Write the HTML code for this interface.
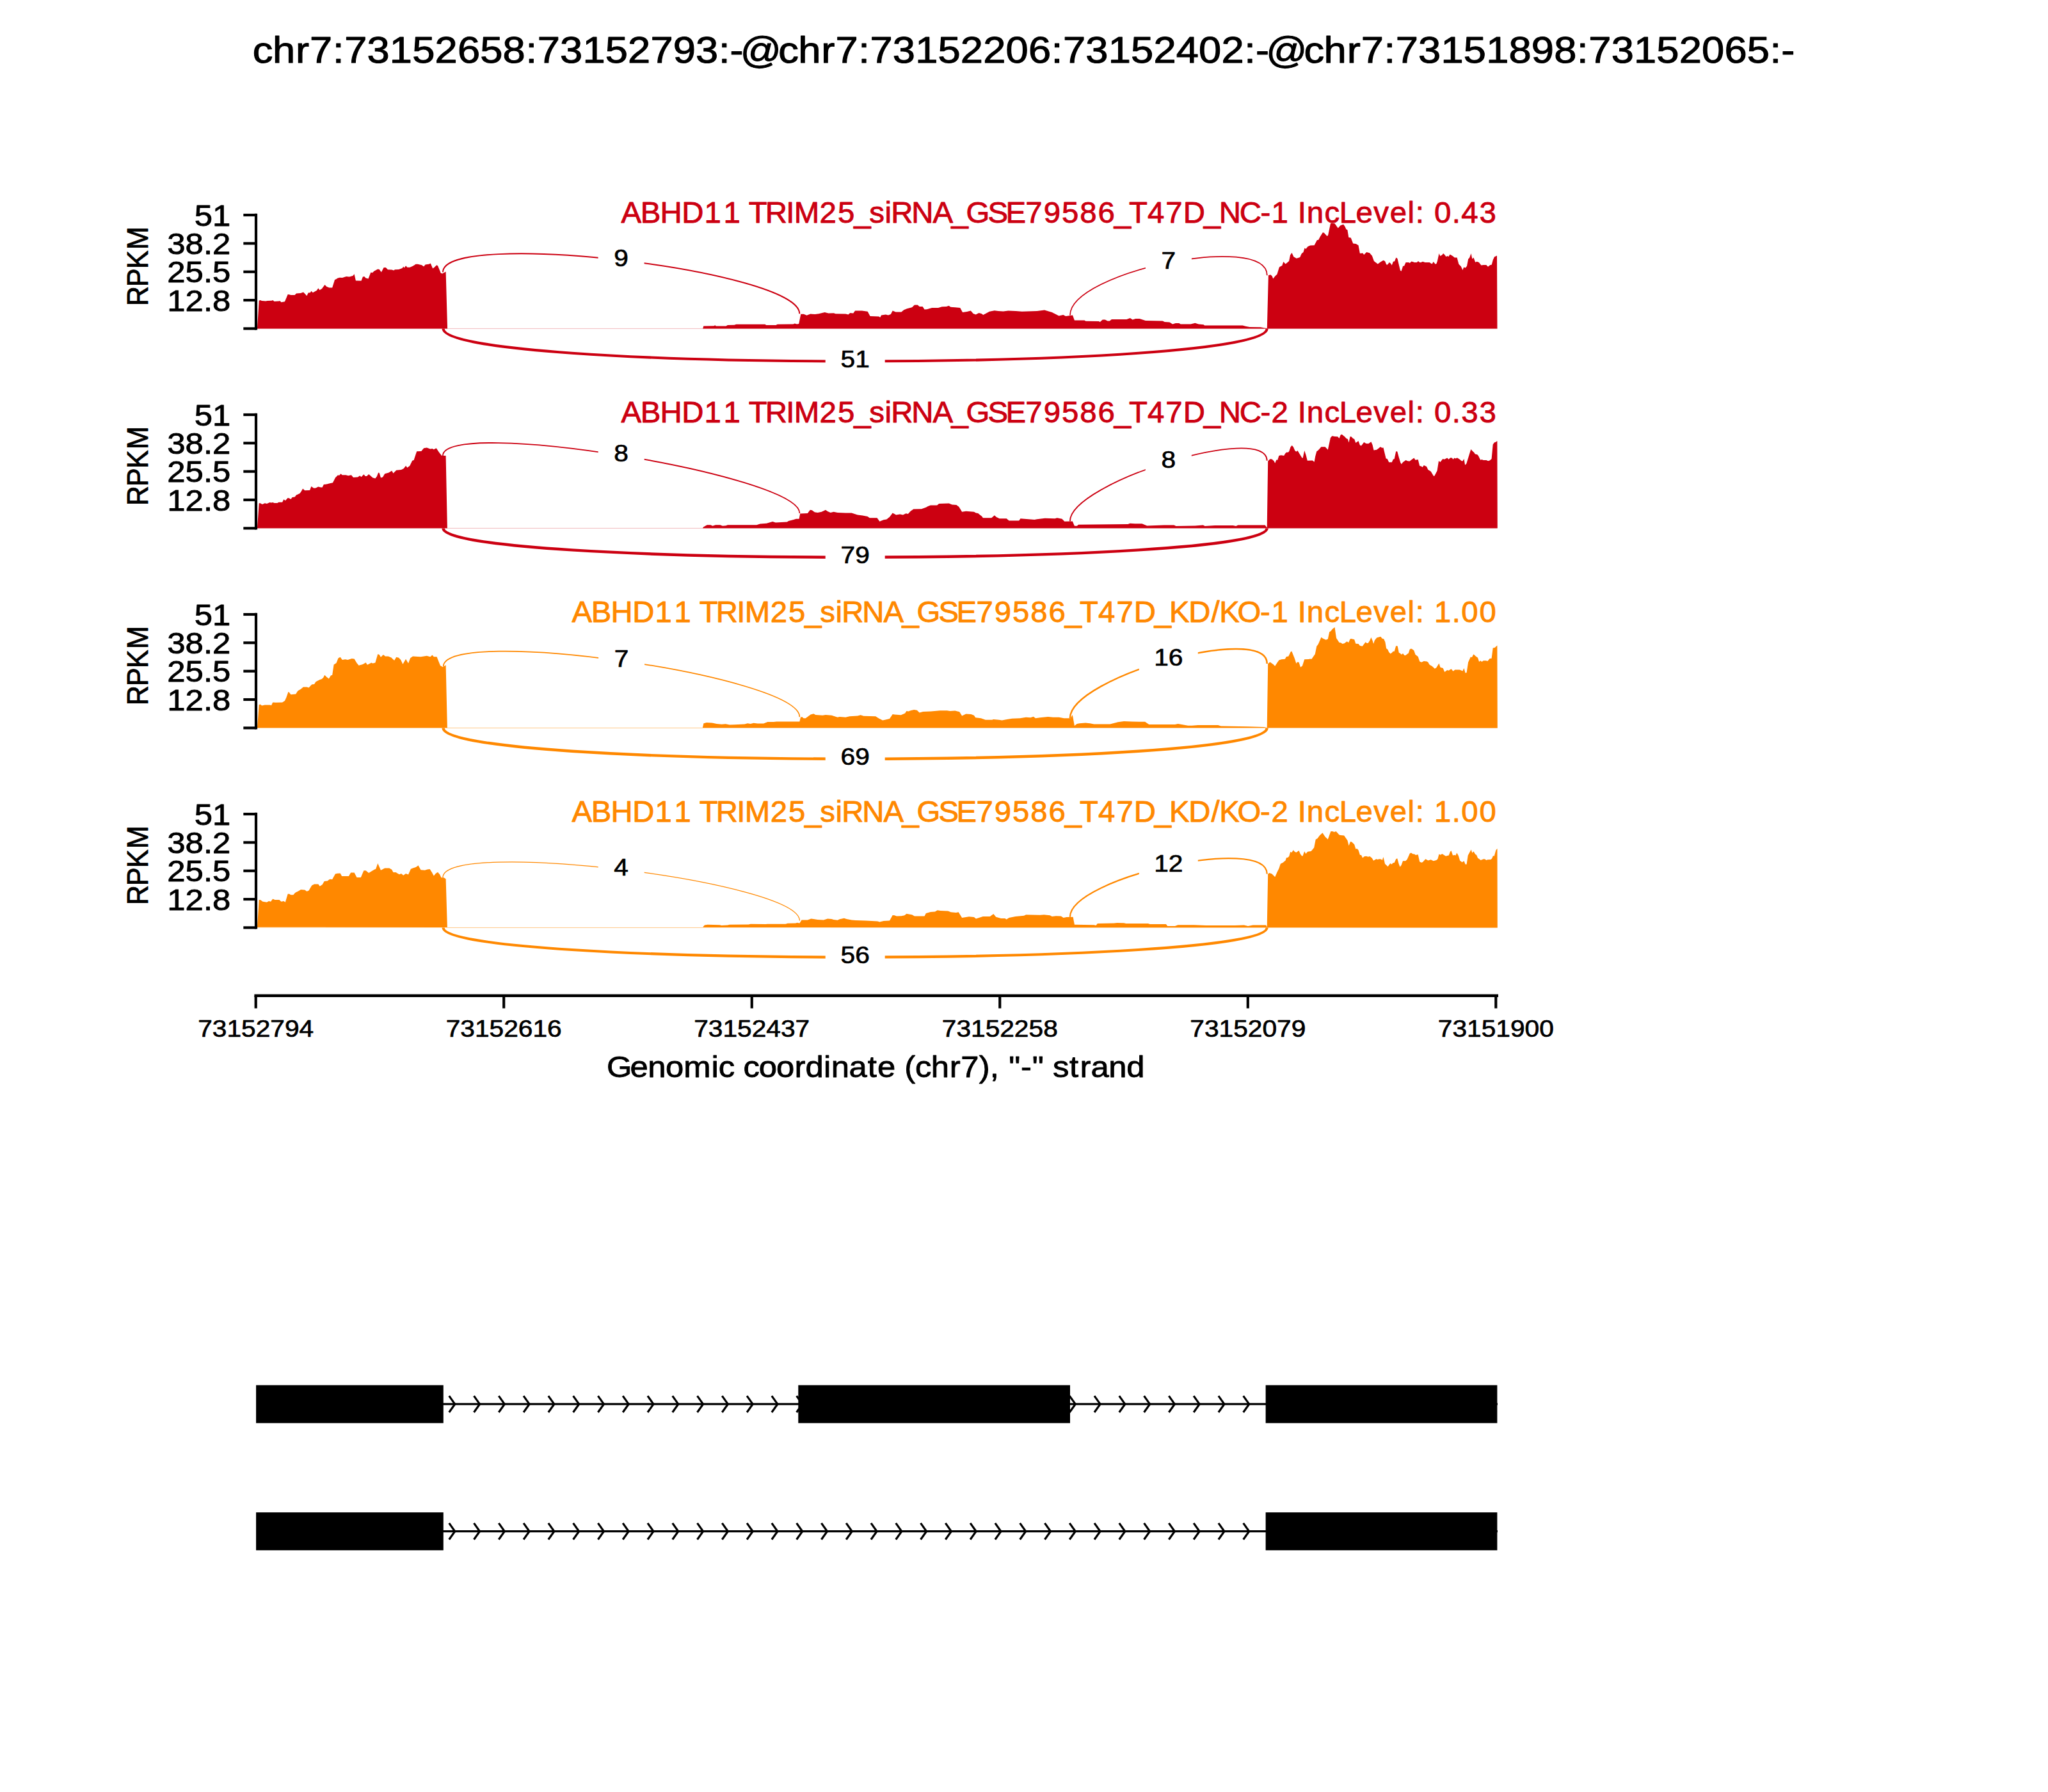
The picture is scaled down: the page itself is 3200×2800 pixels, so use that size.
<!DOCTYPE html>
<html><head><meta charset="utf-8"><style>
html,body{margin:0;padding:0;background:#fff;}
svg{display:block;}
text{font-family:"Liberation Sans", sans-serif;}
</style></head><body>
<svg width="3200" height="2800" viewBox="0 0 3200 2800">
<rect width="3200" height="2800" fill="#fff"/>
<g transform="scale(1.10213,1)"><text x="358.28 386.50 419.25 439.24 471.76 488.30 520.37 552.45 584.52 616.59 648.67 680.74 712.81 745.33 761.87 793.95 826.02 858.09 890.17 922.24 954.31 986.39 1018.91 1034.91 1049.63 1103.48 1131.70 1164.45 1184.44 1216.96 1233.50 1265.57 1297.65 1329.72 1361.79 1393.87 1425.94 1458.01 1490.53 1507.07 1539.15 1571.22 1603.29 1635.37 1667.44 1699.51 1731.59 1764.11 1780.11 1794.83 1848.68 1876.90 1909.65 1929.64 1962.16 1978.70 2010.77 2042.85 2074.92 2106.99 2139.07 2171.14 2203.21 2235.73 2252.27 2284.34 2316.42 2348.49 2380.56 2412.64 2444.71 2476.79 2509.30 2525.31" y="98.05" font-size="57.41" fill="#000" stroke="#000" stroke-width="1.09" stroke-linejoin="round">chr7:73152658:73152793:-@chr7:73152206:73152402:-@chr7:73151898:73152065:-</text></g>
<path d="M402.0,513.4 L404.7,469.7 L406.7,468.9 L409.0,470.0 L415.3,470.6 L417.7,470.0 L424.7,469.7 L426.2,468.9 L428.6,470.9 L436.4,470.6 L437.2,470.0 L439.5,472.2 L445.0,471.2 L449.7,460.0 L452.0,460.3 L454.4,461.1 L460.6,461.1 L463.0,458.4 L470.0,458.1 L473.9,456.4 L476.2,458.8 L479.4,462.2 L481.7,457.5 L484.8,457.2 L486.4,454.8 L488.8,457.2 L491.9,455.6 L495.0,453.8 L497.3,450.2 L499.4,453.3 L502.8,451.2 L507.5,445.0 L510.6,448.1 L514.5,449.4 L519.2,449.4 L523.1,436.9 L524.7,436.6 L527.8,434.5 L530.9,433.8 L534.8,434.1 L541.1,431.9 L545.8,432.5 L551.2,430.9 L553.6,428.3 L555.9,438.4 L564.5,438.8 L566.9,432.5 L569.2,431.9 L571.6,434.5 L575.5,435.6 L579.4,425.6 L581.7,426.2 L584.8,423.6 L590.3,420.5 L592.7,420.9 L595.8,425.2 L599.7,418.1 L602.8,418.1 L605.9,421.2 L612.2,421.6 L615.3,422.5 L616.9,421.2 L623.1,420.9 L628.6,418.9 L630.2,416.6 L631.7,418.4 L634.1,415.3 L636.4,417.8 L640.3,417.8 L645.0,415.8 L649.7,412.7 L652.8,412.7 L659.1,414.2 L662.2,416.6 L664.5,413.4 L667.7,413.1 L670.0,412.7 L672.8,411.6 L676.2,419.4 L678.6,417.8 L682.2,414.2 L684.1,415.3 L688.8,426.7 L691.1,427.5 L696.6,424.4 L699.1,513.4 L1098.2,513.4 L1099.3,509.5 L1115.2,509.3 L1117.5,508.3 L1118.7,509.5 L1134.5,509.5 L1136.8,508.1 L1147.4,507.7 L1150.3,506.8 L1195.4,506.8 L1197.2,508.0 L1212.4,508.0 L1214.8,506.8 L1239.4,506.6 L1241.7,505.4 L1245.2,506.6 L1248.2,506.0 L1251.3,490.7 L1255.8,490.7 L1260.5,492.7 L1266.3,490.4 L1273.4,491.1 L1279.2,490.2 L1288.6,488.0 L1294.5,489.6 L1302.7,489.2 L1305.6,490.2 L1321.5,490.6 L1325.4,491.4 L1328.3,489.1 L1333.2,489.5 L1336.1,485.5 L1346.9,485.5 L1355.7,486.7 L1359.6,493.9 L1373.2,494.5 L1375.2,495.9 L1377.1,492.6 L1384.0,491.4 L1387.9,492.6 L1391.8,491.0 L1394.7,485.5 L1399.6,487.5 L1408.4,487.5 L1412.3,484.2 L1417.2,482.2 L1425.0,480.3 L1428.9,476.4 L1433.8,476.4 L1436.7,478.9 L1441.6,478.9 L1444.5,483.6 L1448.4,483.2 L1456.2,480.9 L1466.0,480.9 L1471.9,479.3 L1478.7,478.9 L1482.6,477.7 L1485.5,479.7 L1492.4,480.3 L1500.2,480.9 L1504.1,488.1 L1510.9,487.1 L1516.8,485.5 L1520.7,490.0 L1524.6,491.4 L1529.5,489.1 L1533.4,490.0 L1536.3,492.0 L1546.1,486.7 L1553.9,485.2 L1559.8,486.1 L1567.6,486.5 L1575.4,485.5 L1587.1,486.1 L1596.9,486.7 L1620.3,486.1 L1632.0,484.6 L1643.8,488.1 L1654.5,493.4 L1661.3,492.0 L1665.2,493.9 L1676.0,492.6 L1678.9,500.4 L1694.5,500.4 L1696.5,501.8 L1716.6,501.9 L1718.9,503.1 L1722.8,499.5 L1726.7,499.5 L1730.6,501.6 L1733.8,501.6 L1736.9,499.1 L1760.3,499.1 L1765.8,496.9 L1769.7,499.5 L1774.4,498.0 L1780.6,498.1 L1790.0,501.1 L1816.6,501.6 L1819.7,503.1 L1827.5,503.4 L1832.2,506.6 L1836.9,505.0 L1842.3,505.0 L1844.7,506.6 L1860.3,506.6 L1867.3,504.7 L1872.8,506.6 L1880.6,507.3 L1882.2,508.4 L1941.6,508.4 L1946.2,509.7 L1952.5,510.9 L1969.7,511.2 L1975.9,512.5 L1979.8,513.0 L1981.9,430.3 L1982.2,430.0 L1985.3,429.2 L1987.7,431.6 L1989.2,435.5 L1992.3,431.6 L1995.5,428.4 L1998.6,418.3 L1999.4,416.9 L2003.3,415.0 L2005.3,409.1 L2008.7,412.5 L2014.1,408.1 L2016.0,398.4 L2018.5,394.9 L2021.4,401.3 L2025.8,403.7 L2031.2,402.1 L2033.6,396.4 L2036.5,394.0 L2038.5,387.6 L2040.4,389.1 L2043.4,385.2 L2047.3,383.5 L2053.6,383.2 L2058.0,374.9 L2060.0,375.1 L2062.9,369.6 L2066.8,363.2 L2068.8,363.7 L2073.6,369.1 L2075.1,367.6 L2079.0,349.0 L2080.5,348.6 L2085.4,349.0 L2090.7,356.4 L2094.1,352.5 L2099.0,350.5 L2101.5,353.9 L2103.4,358.3 L2105.4,359.3 L2107.3,371.0 L2110.7,371.5 L2114.2,380.6 L2118.6,381.0 L2122.5,383.2 L2124.9,395.9 L2129.3,395.4 L2131.2,397.9 L2135.2,394.0 L2140.0,395.2 L2143.9,399.8 L2146.9,408.1 L2152.7,412.5 L2157.6,409.1 L2161.5,406.7 L2164.0,408.1 L2166.3,413.6 L2168.1,413.6 L2170.7,410.1 L2172.9,411.4 L2174.7,414.5 L2176.9,408.8 L2179.1,408.2 L2181.3,402.4 L2183.5,403.9 L2187.9,422.4 L2189.6,423.7 L2192.2,415.4 L2194.0,415.8 L2196.6,410.1 L2201.0,410.1 L2202.8,411.0 L2205.4,408.5 L2208.1,409.2 L2209.8,410.1 L2213.8,410.1 L2216.0,407.9 L2218.2,410.1 L2220.4,409.9 L2223.0,408.8 L2226.5,409.9 L2233.6,410.1 L2237.5,412.6 L2239.7,409.0 L2242.8,412.7 L2244.5,411.9 L2245.9,407.9 L2248.5,396.0 L2250.2,400.0 L2252.9,398.7 L2255.1,396.0 L2256.8,397.4 L2259.5,400.9 L2261.7,400.0 L2263.4,400.9 L2265.6,397.6 L2270.5,400.4 L2272.7,402.6 L2276.6,402.6 L2279.3,412.7 L2282.8,416.2 L2285.4,422.0 L2287.2,417.6 L2289.8,418.4 L2292.0,415.8 L2294.2,404.4 L2296.0,403.1 L2298.6,396.0 L2300.3,404.4 L2302.5,402.6 L2305.2,409.7 L2307.8,408.8 L2310.9,410.1 L2314.4,414.5 L2317.9,414.1 L2322.3,414.1 L2325.0,416.7 L2328.5,414.1 L2330.7,413.8 L2332.9,405.7 L2335.1,401.3 L2339.0,399.5 L2339.5,513.4 Z" fill="#CC0011" stroke="none"/>
<line x1="402" y1="513.4" x2="2339.5" y2="513.4" stroke="#CC0011" stroke-width="0.8" stroke-opacity="0.35"/>
<path d="M692,425.3 C692,357.20000000000005 1249.3,422.1 1249.3,490.2" fill="none" stroke="#CC0011" stroke-width="1.95"/>
<rect x="934.6" y="382.2" width="72.0" height="48" fill="#fff"/>
<g transform="scale(1.10708,1)"><text x="866.55" y="415.85" font-size="36.75" fill="#000" stroke="#000" stroke-width="0.70" stroke-linejoin="round">9</text></g>
<path d="M1672,492.6 C1672,424.5 1979.8,362.20000000000005 1979.8,430.3" fill="none" stroke="#CC0011" stroke-width="1.75"/>
<rect x="1789.9" y="385.9" width="72.0" height="48" fill="#fff"/>
<g transform="scale(1.10708,1)"><text x="1639.08" y="419.55" font-size="36.75" fill="#000" stroke="#000" stroke-width="0.70" stroke-linejoin="round">7</text></g>
<path d="M692.6,513.4 C692.6,581.5 1979.7,581.5 1979.7,513.4" fill="none" stroke="#CC0011" stroke-width="4.1"/>
<rect x="1289.7" y="540.0" width="93.0" height="48" fill="#fff"/>
<g transform="scale(1.10708,1)"><text x="1186.48 1206.92" y="573.65" font-size="36.75" fill="#000" stroke="#000" stroke-width="0.70" stroke-linejoin="round">51</text></g>
<line x1="400" y1="333.7" x2="400" y2="515.6" stroke="#000" stroke-width="4.17"/>
<line x1="380.3" y1="513.40" x2="400" y2="513.40" stroke="#000" stroke-width="4.17"/>
<line x1="380.3" y1="469.05" x2="400" y2="469.05" stroke="#000" stroke-width="4.17"/>
<line x1="380.3" y1="424.70" x2="400" y2="424.70" stroke="#000" stroke-width="4.17"/>
<line x1="380.3" y1="380.35" x2="400" y2="380.35" stroke="#000" stroke-width="4.17"/>
<line x1="380.3" y1="336.00" x2="400" y2="336.00" stroke="#000" stroke-width="4.17"/>
<g transform="scale(1.10708,1)"><text x="274.37 299.91" y="352.56" font-size="45.92" fill="#000" stroke="#000" stroke-width="0.87" stroke-linejoin="round">51</text></g>
<g transform="scale(1.10710,1)"><text x="236.07 261.61 287.15 299.91" y="396.91" font-size="45.92" fill="#000" stroke="#000" stroke-width="0.87" stroke-linejoin="round">38.2</text></g>
<g transform="scale(1.10710,1)"><text x="236.07 261.61 287.15 299.91" y="441.26" font-size="45.92" fill="#000" stroke="#000" stroke-width="0.87" stroke-linejoin="round">25.5</text></g>
<g transform="scale(1.10710,1)"><text x="236.07 261.61 287.15 299.91" y="485.61" font-size="45.92" fill="#000" stroke="#000" stroke-width="0.87" stroke-linejoin="round">12.8</text></g>
<g transform="translate(231.00,415.50) rotate(-90) scale(0.94336,1)"><text x="-66.55 -34.72 -5.07 26.89" y="-0.44" font-size="45.92" fill="#000" stroke="#000" stroke-width="0.87" stroke-linejoin="round">RPKM</text></g>
<g transform="scale(1.03192,1)"><text x="940.38 969.88 999.58 1032.35 1066.44 1095.54 1120.78 1133.54 1158.69 1190.20 1202.38 1241.02 1268.42 1292.88 1316.16 1339.74 1349.20 1380.27 1412.37 1440.42 1462.78 1495.68 1522.95 1552.80 1580.20 1607.60 1635.00 1662.40 1686.86 1709.53 1737.64 1765.04 1791.51 1822.66 1845.73 1876.87 1908.61 1924.96 1951.89 1965.09 1978.69 2005.47 2028.01 2052.88 2079.78 2104.48 2131.38 2143.34 2157.44 2171.59 2198.53 2212.68 2240.08" y="348.06" font-size="45.92" fill="#CC0011" stroke="#CC0011" stroke-width="0.87" stroke-linejoin="round">ABHD11 TRIM25_siRNA_GSE79586_T47D_NC-1 IncLevel: 0.43</text></g>
<path d="M402.0,825.3 L404.7,786.2 L406.7,786.2 L409.8,788.1 L413.8,786.2 L416.9,786.9 L421.6,785.0 L423.9,785.6 L426.2,785.0 L428.6,785.9 L433.3,785.9 L435.6,784.7 L441.1,784.7 L443.4,780.3 L445.8,782.3 L449.7,778.1 L452.0,778.4 L454.4,780.0 L456.7,776.9 L460.6,776.6 L463.0,773.4 L468.4,770.9 L470.8,767.8 L473.1,763.6 L476.2,766.2 L484.1,765.9 L486.4,760.0 L490.3,762.8 L493.4,762.5 L497.3,760.5 L501.2,761.6 L503.6,761.6 L505.9,756.9 L510.6,756.6 L515.3,755.3 L520.0,754.2 L523.9,746.4 L527.8,742.5 L530.2,742.8 L532.5,740.2 L534.8,742.2 L540.3,742.2 L544.2,743.3 L548.9,742.2 L552.0,745.9 L559.1,745.6 L562.2,743.3 L564.5,745.3 L568.4,741.2 L570.8,744.1 L573.1,744.1 L576.2,740.9 L582.5,746.4 L586.4,747.5 L588.8,744.4 L591.1,738.6 L592.7,739.1 L595.0,746.4 L598.1,745.6 L601.2,740.2 L607.5,738.6 L612.2,735.5 L614.5,739.4 L619.2,734.7 L627.0,733.9 L630.9,731.9 L634.1,727.7 L636.4,730.8 L640.3,727.7 L644.2,719.8 L646.6,719.1 L651.2,705.3 L658.3,705.0 L662.2,700.3 L666.9,699.5 L672.3,701.6 L675.5,701.1 L677.8,702.2 L681.7,700.3 L686.4,707.3 L690.3,712.0 L696.6,712.0 L698.9,825.3 L1097.8,825.3 L1099.4,823.3 L1104.8,820.2 L1110.3,820.2 L1113.4,821.7 L1118.1,820.2 L1125.2,820.2 L1129.1,821.7 L1134.5,821.2 L1136.9,820.2 L1182.2,820.2 L1187.7,818.6 L1197.8,817.8 L1207.2,815.0 L1211.9,816.6 L1229.8,815.5 L1232.2,813.9 L1240.0,811.9 L1243.9,810.8 L1248.6,810.8 L1250.2,802.5 L1261.9,801.9 L1265.8,796.7 L1268.9,797.2 L1272.8,800.3 L1277.5,800.9 L1283.8,799.8 L1290.0,796.7 L1293.1,799.1 L1297.8,800.9 L1302.5,799.8 L1308.8,800.9 L1321.2,801.4 L1330.6,801.4 L1340.0,804.5 L1347.8,805.6 L1355.6,806.9 L1358.8,809.2 L1370.5,809.2 L1374.4,814.7 L1380.6,812.3 L1385.3,811.6 L1390.0,807.7 L1394.7,801.4 L1400.2,804.5 L1406.2,803.4 L1410.9,804.5 L1415.6,802.2 L1418.8,803.0 L1422.7,798.8 L1427.3,795.6 L1439.8,795.2 L1446.9,792.8 L1450.0,790.9 L1453.9,789.4 L1464.1,789.4 L1467.2,786.9 L1482.8,786.6 L1487.5,788.4 L1494.5,788.9 L1498.4,792.0 L1503.1,799.8 L1509.4,798.8 L1521.9,799.8 L1525.0,801.4 L1528.1,801.9 L1534.4,806.9 L1535.9,809.2 L1549.2,809.2 L1553.9,805.3 L1557.0,808.1 L1561.7,810.3 L1572.7,810.3 L1576.6,813.4 L1592.2,813.4 L1594.5,810.3 L1600.8,810.8 L1616.4,811.9 L1620.3,811.2 L1632.8,809.7 L1648.4,810.3 L1651.6,809.2 L1659.4,810.8 L1663.3,814.7 L1675.8,814.4 L1678.9,821.7 L1682.8,821.7 L1685.2,819.7 L1762.5,819.1 L1765.6,817.8 L1773.4,818.3 L1784.4,818.3 L1792.2,821.4 L1818.8,820.6 L1834.4,820.6 L1837.5,821.9 L1867.2,821.4 L1879.7,820.6 L1882.8,821.9 L1898.4,820.9 L1926.6,820.9 L1931.2,821.9 L1934.4,820.6 L1976.6,820.6 L1979.7,824.5 L1981.2,720.6 L1984.4,717.2 L1987.5,717.5 L1990.6,720.6 L1992.2,723.8 L1994.5,718.3 L1996.1,719.1 L1998.4,712.0 L2001.6,711.2 L2006.2,712.0 L2008.6,708.1 L2010.9,706.6 L2012.5,707.1 L2014.2,705.2 L2016.6,698.2 L2018.7,696.1 L2020.8,698.2 L2023.3,704.0 L2025.4,705.7 L2027.4,704.0 L2030.8,709.4 L2034.5,715.6 L2035.7,715.6 L2038.2,704.0 L2040.7,711.5 L2042.8,719.8 L2050.7,719.4 L2053.6,721.8 L2055.2,713.1 L2057.3,705.2 L2059.8,703.6 L2064.4,698.2 L2070.6,698.2 L2074.8,702.8 L2078.9,684.1 L2081.4,681.2 L2085.5,682.0 L2090.1,682.2 L2092.6,684.9 L2094.7,679.5 L2096.7,678.7 L2101.3,682.4 L2103.8,685.3 L2105.9,686.1 L2107.5,691.5 L2109.6,682.0 L2111.7,682.4 L2114.2,685.3 L2116.2,686.1 L2118.3,692.0 L2122.5,689.0 L2125.0,695.7 L2127.0,696.5 L2131.2,691.1 L2134.5,693.0 L2138.2,693.2 L2142.4,690.3 L2144.5,694.9 L2146.5,703.6 L2151.1,702.8 L2156.9,698.2 L2159.4,699.8 L2161.5,699.4 L2165.6,716.4 L2167.7,717.1 L2170.2,722.3 L2174.8,722.3 L2176.8,717.7 L2178.7,716.9 L2181.2,705.3 L2183.3,705.5 L2185.8,714.8 L2188.3,723.1 L2189.9,725.2 L2192.0,722.3 L2196.6,719.1 L2199.1,720.2 L2202.4,720.8 L2205.3,718.6 L2209.4,715.5 L2211.5,718.8 L2215.7,718.0 L2218.2,728.1 L2220.7,728.5 L2222.7,729.9 L2224.8,727.1 L2229.0,729.1 L2231.4,733.9 L2235.6,736.4 L2240.2,743.9 L2241.4,743.5 L2245.6,735.6 L2248.0,720.2 L2250.5,722.1 L2254.3,717.1 L2256.8,717.7 L2261.3,715.5 L2263.4,717.7 L2266.3,715.2 L2268.8,715.6 L2270.5,717.7 L2272.5,715.5 L2274.6,716.5 L2276.7,715.2 L2280.8,717.7 L2283.7,720.2 L2285.4,720.6 L2287.5,716.9 L2289.1,726.4 L2291.2,724.8 L2298.3,702.0 L2301.2,705.3 L2302.8,706.4 L2304.9,709.4 L2308.2,710.3 L2309.9,711.9 L2313.2,718.8 L2315.3,718.0 L2317.8,719.0 L2322.3,719.1 L2325.2,720.2 L2327.7,719.4 L2330.6,716.9 L2332.7,694.5 L2334.8,691.4 L2336.9,690.8 L2339.4,689.1 L2339.8,825.3 Z" fill="#CC0011" stroke="none"/>
<line x1="402" y1="825.4" x2="2339.5" y2="825.4" stroke="#CC0011" stroke-width="0.8" stroke-opacity="0.35"/>
<path d="M691.9,712 C691.9,651.6 1249.4,741.5 1249.4,801.9" fill="none" stroke="#CC0011" stroke-width="1.85"/>
<rect x="934.7" y="687.2" width="72.0" height="48" fill="#fff"/>
<g transform="scale(1.10708,1)"><text x="866.55" y="720.85" font-size="36.75" fill="#000" stroke="#000" stroke-width="0.70" stroke-linejoin="round">8</text></g>
<path d="M1671.9,814.4 C1671.9,754.0 1979.7,659.4 1979.7,719.8" fill="none" stroke="#CC0011" stroke-width="1.85"/>
<rect x="1789.8" y="697.3" width="72.0" height="48" fill="#fff"/>
<g transform="scale(1.10708,1)"><text x="1638.99" y="730.95" font-size="36.75" fill="#000" stroke="#000" stroke-width="0.70" stroke-linejoin="round">8</text></g>
<path d="M692.6,825.4 C692.6,885.8 1979.7,885.8 1979.7,825.4" fill="none" stroke="#CC0011" stroke-width="4.5"/>
<rect x="1289.7" y="846.0" width="93.0" height="48" fill="#fff"/>
<g transform="scale(1.10708,1)"><text x="1186.48 1206.92" y="879.65" font-size="36.75" fill="#000" stroke="#000" stroke-width="0.70" stroke-linejoin="round">79</text></g>
<line x1="400" y1="645.7" x2="400" y2="827.6" stroke="#000" stroke-width="4.17"/>
<line x1="380.3" y1="825.40" x2="400" y2="825.40" stroke="#000" stroke-width="4.17"/>
<line x1="380.3" y1="781.05" x2="400" y2="781.05" stroke="#000" stroke-width="4.17"/>
<line x1="380.3" y1="736.70" x2="400" y2="736.70" stroke="#000" stroke-width="4.17"/>
<line x1="380.3" y1="692.35" x2="400" y2="692.35" stroke="#000" stroke-width="4.17"/>
<line x1="380.3" y1="648.00" x2="400" y2="648.00" stroke="#000" stroke-width="4.17"/>
<g transform="scale(1.10708,1)"><text x="274.37 299.91" y="664.56" font-size="45.92" fill="#000" stroke="#000" stroke-width="0.87" stroke-linejoin="round">51</text></g>
<g transform="scale(1.10710,1)"><text x="236.07 261.61 287.15 299.91" y="708.91" font-size="45.92" fill="#000" stroke="#000" stroke-width="0.87" stroke-linejoin="round">38.2</text></g>
<g transform="scale(1.10710,1)"><text x="236.07 261.61 287.15 299.91" y="753.26" font-size="45.92" fill="#000" stroke="#000" stroke-width="0.87" stroke-linejoin="round">25.5</text></g>
<g transform="scale(1.10710,1)"><text x="236.07 261.61 287.15 299.91" y="797.61" font-size="45.92" fill="#000" stroke="#000" stroke-width="0.87" stroke-linejoin="round">12.8</text></g>
<g transform="translate(231.00,727.50) rotate(-90) scale(0.94336,1)"><text x="-66.55 -34.72 -5.07 26.89" y="-0.44" font-size="45.92" fill="#000" stroke="#000" stroke-width="0.87" stroke-linejoin="round">RPKM</text></g>
<g transform="scale(1.03192,1)"><text x="940.38 969.88 999.58 1032.35 1066.44 1095.54 1120.78 1133.54 1158.69 1190.20 1202.38 1241.02 1268.42 1292.88 1316.16 1339.74 1349.20 1380.27 1412.37 1440.42 1462.78 1495.68 1522.95 1552.80 1580.20 1607.60 1635.00 1662.40 1686.86 1709.53 1737.64 1765.04 1791.51 1822.66 1845.73 1876.87 1908.61 1924.96 1951.89 1965.09 1978.69 2005.47 2028.01 2052.88 2079.78 2104.48 2131.38 2143.34 2157.44 2171.59 2198.53 2212.68 2240.08" y="660.06" font-size="45.92" fill="#CC0011" stroke="#CC0011" stroke-width="0.87" stroke-linejoin="round">ABHD11 TRIM25_siRNA_GSE79586_T47D_NC-2 IncLevel: 0.33</text></g>
<path d="M402.0,1137.2 L404.7,1101.2 L406.7,1100.6 L409.1,1102.5 L413.8,1101.4 L422.3,1101.6 L423.9,1102.2 L426.2,1097.5 L430.9,1097.8 L441.1,1097.5 L445.0,1095.0 L447.3,1090.0 L450.5,1080.9 L452.0,1081.9 L454.4,1085.3 L462.2,1084.5 L465.3,1079.4 L470.0,1076.7 L473.9,1073.6 L479.4,1073.6 L482.5,1074.4 L487.2,1069.4 L491.1,1068.9 L493.4,1065.3 L499.7,1061.9 L502.8,1061.1 L505.2,1058.8 L507.2,1054.8 L510.6,1058.0 L513.8,1060.6 L516.9,1055.6 L519.2,1054.8 L521.6,1038.4 L525.5,1036.1 L528.6,1028.3 L531.7,1026.7 L534.8,1030.9 L539.5,1030.3 L543.4,1030.9 L549.7,1029.1 L553.6,1029.4 L557.5,1036.1 L560.6,1039.7 L566.9,1038.1 L571.6,1035.3 L573.9,1038.8 L577.0,1037.2 L580.2,1035.6 L582.5,1036.6 L586.4,1035.6 L590.3,1022.0 L592.7,1023.1 L595.0,1026.7 L598.9,1023.1 L602.0,1025.6 L606.7,1025.6 L611.4,1027.5 L616.1,1031.9 L619.2,1026.7 L623.1,1027.8 L626.2,1030.9 L629.4,1037.7 L634.1,1029.8 L638.0,1036.6 L641.1,1028.3 L645.0,1025.6 L652.8,1025.9 L657.5,1026.2 L666.9,1024.7 L672.3,1026.2 L675.5,1023.6 L677.8,1026.2 L682.5,1026.2 L688.0,1040.0 L691.9,1042.3 L696.6,1039.2 L698.9,1137.4 L1097.8,1137.5 L1099.4,1130.2 L1104.1,1129.1 L1112.7,1129.4 L1119.7,1130.9 L1127.5,1131.7 L1133.8,1131.2 L1140.0,1132.5 L1147.8,1132.2 L1163.4,1131.4 L1168.1,1130.2 L1172.8,1130.9 L1177.5,1129.8 L1183.8,1130.6 L1193.1,1130.6 L1199.4,1128.1 L1208.8,1128.1 L1213.4,1127.5 L1249.4,1127.5 L1250.9,1120.8 L1253.3,1120.3 L1255.6,1122.3 L1258.8,1122.3 L1266.6,1116.6 L1271.2,1115.3 L1274.4,1116.9 L1285.3,1117.7 L1290.0,1116.9 L1299.4,1117.7 L1305.6,1119.7 L1308.8,1120.8 L1311.9,1120.0 L1321.2,1120.8 L1327.5,1119.2 L1340.0,1118.4 L1344.7,1117.2 L1349.4,1118.8 L1368.1,1119.2 L1372.8,1122.3 L1379.1,1125.5 L1383.8,1124.4 L1390.0,1123.1 L1394.7,1116.1 L1397.8,1116.6 L1407.8,1117.2 L1414.1,1114.5 L1416.4,1110.9 L1419.5,1111.4 L1422.7,1110.3 L1428.1,1109.1 L1432.8,1109.8 L1436.7,1113.4 L1442.2,1111.9 L1454.7,1111.4 L1468.8,1110.3 L1479.7,1110.3 L1484.4,1110.9 L1492.2,1110.6 L1499.2,1112.2 L1503.1,1118.4 L1509.4,1115.6 L1517.2,1116.1 L1521.9,1117.7 L1524.2,1121.2 L1532.8,1122.3 L1539.8,1124.7 L1550.0,1124.7 L1552.3,1123.9 L1560.9,1124.7 L1565.6,1125.5 L1573.4,1123.9 L1581.2,1122.8 L1593.8,1122.3 L1603.1,1120.8 L1610.2,1121.2 L1614.8,1119.7 L1618.0,1122.3 L1625.0,1121.2 L1637.5,1120.0 L1645.3,1120.8 L1654.7,1120.8 L1662.5,1122.3 L1672.7,1122.3 L1675.8,1116.9 L1678.9,1134.1 L1682.8,1130.9 L1686.7,1130.2 L1696.1,1129.4 L1703.1,1130.2 L1709.4,1131.4 L1734.4,1131.4 L1746.9,1128.3 L1756.2,1127.0 L1768.8,1127.5 L1789.1,1127.8 L1795.3,1131.9 L1835.9,1131.9 L1840.6,1131.1 L1856.2,1133.8 L1862.5,1133.8 L1871.9,1133.0 L1903.1,1133.0 L1907.8,1134.5 L1950.0,1135.3 L1975.0,1136.1 L1979.7,1136.9 L1981.2,1036.9 L1984.4,1034.5 L1989.1,1037.7 L1992.2,1040.8 L1995.3,1036.1 L1998.4,1031.4 L2002.3,1030.3 L2007.8,1029.8 L2010.0,1026.0 L2013.3,1025.6 L2016.6,1018.6 L2018.3,1017.5 L2022.9,1028.9 L2025.4,1036.8 L2027.0,1034.6 L2029.5,1034.7 L2032.0,1042.6 L2034.9,1040.6 L2038.2,1030.2 L2044.9,1029.9 L2046.9,1029.4 L2049.4,1029.8 L2054.8,1021.9 L2057.3,1009.7 L2059.8,1006.5 L2064.4,995.7 L2067.3,997.8 L2071.8,999.7 L2074.8,998.6 L2077.2,987.4 L2079.7,985.8 L2081.8,982.9 L2085.5,980.0 L2088.0,997.0 L2092.6,1004.0 L2095.1,1004.2 L2097.6,1005.9 L2100.5,1005.3 L2104.6,1002.2 L2107.1,1004.0 L2109.6,998.6 L2111.3,998.1 L2116.2,999.2 L2118.3,1005.7 L2122.5,1006.1 L2125.0,1009.0 L2128.7,1009.8 L2133.7,1003.2 L2135.8,1004.9 L2137.8,1004.7 L2140.3,1000.7 L2142.4,995.9 L2144.5,1000.7 L2146.1,1006.1 L2147.8,1000.7 L2151.1,996.4 L2154.4,995.6 L2157.3,994.7 L2159.4,997.4 L2162.3,998.6 L2164.4,1003.2 L2166.1,1013.2 L2168.1,1014.4 L2170.2,1019.0 L2172.7,1021.6 L2175.0,1019.8 L2176.7,1017.8 L2178.7,1017.8 L2181.2,1009.2 L2183.7,1009.5 L2185.8,1019.7 L2187.9,1021.1 L2189.9,1022.8 L2192.0,1021.1 L2194.5,1024.0 L2196.2,1024.0 L2198.7,1021.9 L2200.7,1020.7 L2202.8,1014.4 L2204.9,1013.4 L2207.0,1014.4 L2209.4,1016.5 L2211.5,1022.8 L2215.7,1026.1 L2218.2,1033.5 L2221.1,1034.8 L2224.8,1033.1 L2229.4,1033.5 L2231.4,1034.8 L2233.5,1038.5 L2237.7,1041.0 L2241.8,1044.7 L2244.3,1043.2 L2248.5,1036.6 L2250.5,1042.7 L2254.7,1043.9 L2257.2,1049.9 L2261.3,1047.1 L2263.4,1047.7 L2267.6,1045.2 L2270.5,1048.7 L2273.4,1046.4 L2280.8,1046.4 L2285.4,1048.5 L2287.5,1044.1 L2289.6,1051.5 L2291.6,1051.0 L2294.1,1034.8 L2297.8,1026.5 L2299.9,1026.9 L2302.4,1022.3 L2305.7,1025.2 L2309.1,1027.7 L2311.1,1034.0 L2313.2,1032.3 L2315.3,1034.1 L2317.8,1032.3 L2321.9,1032.3 L2324.4,1033.1 L2327.7,1029.0 L2330.6,1028.8 L2332.7,1012.4 L2335.6,1012.0 L2339.4,1008.4 L2339.8,1137.4 Z" fill="#FF8800" stroke="none"/>
<line x1="402" y1="1137.4" x2="2339.5" y2="1137.4" stroke="#FF8800" stroke-width="0.8" stroke-opacity="0.35"/>
<path d="M692.7,1041.6 C692.7,977.0999999999999 1249.4,1055.8 1249.4,1120.3" fill="none" stroke="#FF8800" stroke-width="1.75"/>
<rect x="935.1" y="1008.0999999999999" width="72.0" height="48" fill="#fff"/>
<g transform="scale(1.10708,1)"><text x="866.91" y="1041.75" font-size="36.75" fill="#000" stroke="#000" stroke-width="0.70" stroke-linejoin="round">7</text></g>
<path d="M1671.9,1122.3 C1671.9,1057.8 1979.7,972.4000000000001 1979.7,1036.9" fill="none" stroke="#FF8800" stroke-width="2.55"/>
<rect x="1779.8" y="1006.7" width="92.0" height="48" fill="#fff"/>
<g transform="scale(1.10708,1)"><text x="1628.77 1649.21" y="1040.35" font-size="36.75" fill="#000" stroke="#000" stroke-width="0.70" stroke-linejoin="round">16</text></g>
<path d="M692.6,1137.4 C692.6,1201.9 1979.7,1201.9 1979.7,1137.4" fill="none" stroke="#FF8800" stroke-width="4.4"/>
<rect x="1289.7" y="1161.3" width="93.0" height="48" fill="#fff"/>
<g transform="scale(1.10708,1)"><text x="1186.48 1206.92" y="1194.95" font-size="36.75" fill="#000" stroke="#000" stroke-width="0.70" stroke-linejoin="round">69</text></g>
<line x1="400" y1="957.7" x2="400" y2="1139.6" stroke="#000" stroke-width="4.17"/>
<line x1="380.3" y1="1137.40" x2="400" y2="1137.40" stroke="#000" stroke-width="4.17"/>
<line x1="380.3" y1="1093.05" x2="400" y2="1093.05" stroke="#000" stroke-width="4.17"/>
<line x1="380.3" y1="1048.70" x2="400" y2="1048.70" stroke="#000" stroke-width="4.17"/>
<line x1="380.3" y1="1004.35" x2="400" y2="1004.35" stroke="#000" stroke-width="4.17"/>
<line x1="380.3" y1="960.00" x2="400" y2="960.00" stroke="#000" stroke-width="4.17"/>
<g transform="scale(1.10708,1)"><text x="274.37 299.91" y="976.56" font-size="45.92" fill="#000" stroke="#000" stroke-width="0.87" stroke-linejoin="round">51</text></g>
<g transform="scale(1.10710,1)"><text x="236.07 261.61 287.15 299.91" y="1020.91" font-size="45.92" fill="#000" stroke="#000" stroke-width="0.87" stroke-linejoin="round">38.2</text></g>
<g transform="scale(1.10710,1)"><text x="236.07 261.61 287.15 299.91" y="1065.26" font-size="45.92" fill="#000" stroke="#000" stroke-width="0.87" stroke-linejoin="round">25.5</text></g>
<g transform="scale(1.10710,1)"><text x="236.07 261.61 287.15 299.91" y="1109.61" font-size="45.92" fill="#000" stroke="#000" stroke-width="0.87" stroke-linejoin="round">12.8</text></g>
<g transform="translate(231.00,1039.50) rotate(-90) scale(0.94336,1)"><text x="-66.55 -34.72 -5.07 26.89" y="-0.44" font-size="45.92" fill="#000" stroke="#000" stroke-width="0.87" stroke-linejoin="round">RPKM</text></g>
<g transform="scale(1.03047,1)"><text x="867.01 896.55 926.29 959.11 993.24 1022.39 1047.65 1060.44 1085.62 1117.17 1129.38 1168.07 1195.50 1220.00 1243.31 1266.91 1276.41 1307.52 1339.67 1367.74 1390.14 1423.09 1450.40 1480.29 1507.72 1535.16 1562.60 1590.04 1614.54 1637.24 1665.38 1692.82 1719.33 1750.53 1772.91 1802.38 1836.45 1848.92 1876.31 1910.70 1927.68 1954.64 1967.85 1981.49 2008.30 2030.88 2055.78 2082.72 2107.46 2134.38 2146.36 2160.48 2174.66 2201.63 2215.81 2243.25" y="972.06" font-size="45.92" fill="#FF8800" stroke="#FF8800" stroke-width="0.87" stroke-linejoin="round">ABHD11 TRIM25_siRNA_GSE79586_T47D_KD/KO-1 IncLevel: 1.00</text></g>
<path d="M402.0,1448.8 L404.7,1406.1 L406.7,1406.1 L410.6,1408.8 L416.9,1409.7 L420.0,1408.1 L423.1,1408.8 L426.2,1404.5 L429.4,1406.1 L436.4,1406.1 L439.5,1408.8 L443.4,1408.1 L445.8,1409.7 L449.7,1396.7 L452.0,1396.7 L454.4,1398.3 L458.3,1398.3 L461.4,1394.7 L466.9,1392.0 L470.0,1390.0 L476.2,1390.5 L479.4,1392.8 L482.5,1391.6 L487.2,1383.4 L491.1,1381.6 L497.3,1381.6 L499.7,1384.7 L503.6,1382.2 L506.7,1376.9 L511.4,1376.4 L515.3,1373.8 L519.2,1374.1 L523.9,1365.5 L527.0,1364.7 L531.7,1364.4 L534.1,1369.1 L545.0,1369.1 L548.1,1363.4 L553.6,1363.4 L557.5,1370.9 L563.8,1370.9 L568.4,1360.3 L571.6,1360.3 L576.2,1363.9 L580.2,1361.6 L584.8,1358.8 L587.2,1357.7 L590.3,1349.1 L595.0,1359.7 L601.2,1356.6 L608.3,1356.6 L612.2,1358.8 L614.5,1363.1 L618.4,1363.1 L623.9,1366.2 L627.0,1365.0 L630.2,1367.8 L634.1,1365.0 L638.0,1366.6 L641.9,1357.7 L645.0,1356.6 L649.7,1355.0 L653.6,1352.2 L657.5,1359.2 L663.8,1359.7 L667.7,1358.4 L671.6,1358.1 L674.7,1362.8 L677.8,1368.6 L680.9,1364.7 L684.1,1362.8 L687.2,1366.6 L689.5,1371.2 L693.4,1371.2 L696.6,1373.3 L698.9,1449.2 L1097.8,1449.2 L1100.9,1445.6 L1105.6,1444.8 L1124.4,1445.3 L1127.5,1445.9 L1136.9,1445.6 L1140.0,1444.8 L1169.7,1444.4 L1172.8,1443.8 L1196.2,1444.1 L1199.4,1443.8 L1227.5,1443.8 L1230.6,1442.8 L1243.1,1442.5 L1245.5,1441.7 L1249.4,1442.5 L1252.5,1437.5 L1261.9,1437.5 L1267.3,1435.5 L1271.2,1435.9 L1277.5,1437.0 L1286.9,1437.5 L1293.1,1435.5 L1299.4,1435.9 L1302.5,1437.0 L1308.8,1437.8 L1311.9,1436.2 L1318.9,1434.7 L1322.8,1435.9 L1330.6,1437.5 L1336.9,1438.1 L1352.5,1438.6 L1361.9,1439.1 L1371.2,1439.4 L1374.4,1440.6 L1380.6,1439.1 L1390.0,1438.6 L1394.7,1430.0 L1397.8,1430.3 L1400.9,1431.6 L1408.6,1431.2 L1413.3,1430.3 L1416.4,1427.7 L1425.0,1429.2 L1428.9,1431.6 L1444.5,1431.6 L1446.9,1426.9 L1453.9,1425.0 L1460.9,1424.5 L1464.8,1422.2 L1469.5,1423.0 L1481.2,1423.4 L1485.9,1425.3 L1493.8,1426.1 L1497.7,1425.3 L1503.1,1433.9 L1514.1,1432.3 L1521.9,1433.1 L1525.0,1435.5 L1529.7,1433.9 L1535.9,1431.9 L1546.9,1431.9 L1552.3,1428.1 L1556.2,1432.8 L1564.1,1435.0 L1570.3,1435.0 L1572.7,1436.6 L1576.6,1433.9 L1586.7,1431.9 L1600.0,1430.8 L1603.1,1429.2 L1625.0,1429.7 L1631.2,1429.2 L1640.6,1430.3 L1643.8,1431.9 L1650.0,1431.2 L1657.8,1431.6 L1661.7,1433.9 L1666.4,1433.1 L1676.6,1432.8 L1678.9,1444.8 L1709.4,1445.3 L1712.5,1446.1 L1714.8,1443.0 L1740.6,1442.5 L1745.3,1441.9 L1756.2,1442.2 L1759.4,1443.0 L1793.8,1443.0 L1796.9,1444.1 L1821.9,1444.1 L1824.2,1446.9 L1835.9,1446.9 L1840.6,1445.3 L1865.6,1445.3 L1884.4,1446.1 L1929.7,1446.1 L1943.8,1445.6 L1950.0,1446.9 L1957.8,1445.6 L1978.1,1445.6 L1979.7,1448.4 L1981.2,1365.6 L1983.6,1364.1 L1987.5,1365.6 L1992.2,1370.3 L1995.3,1363.3 L1998.4,1357.0 L2000.8,1349.7 L2004.7,1347.7 L2008.6,1344.5 L2010.0,1340.2 L2012.5,1339.8 L2014.2,1338.0 L2016.2,1331.1 L2018.3,1331.9 L2020.8,1328.3 L2022.9,1330.7 L2025.4,1331.9 L2029.5,1329.0 L2032.0,1334.8 L2034.5,1337.7 L2035.7,1336.9 L2038.2,1330.3 L2040.3,1334.0 L2043.2,1330.7 L2048.6,1330.0 L2051.1,1326.9 L2053.2,1324.4 L2055.7,1311.8 L2058.6,1309.9 L2061.9,1305.4 L2066.4,1301.2 L2070.6,1307.4 L2074.8,1311.4 L2079.3,1299.0 L2082.2,1299.1 L2084.7,1300.0 L2087.6,1299.0 L2092.6,1304.5 L2094.7,1305.1 L2100.1,1305.6 L2105.5,1313.2 L2107.5,1321.5 L2110.0,1314.9 L2112.1,1315.6 L2116.2,1319.5 L2118.3,1326.5 L2120.4,1326.1 L2122.5,1328.2 L2125.0,1336.1 L2127.0,1336.1 L2129.1,1340.6 L2131.6,1338.3 L2134.5,1337.7 L2137.8,1338.8 L2140.3,1338.1 L2143.7,1340.8 L2146.1,1344.8 L2150.3,1342.3 L2152.8,1343.1 L2154.8,1342.3 L2157.8,1342.5 L2159.8,1344.0 L2161.5,1339.0 L2164.0,1349.8 L2168.5,1353.9 L2172.3,1348.9 L2174.4,1350.6 L2176.7,1348.3 L2178.7,1348.1 L2181.2,1342.3 L2183.3,1341.3 L2185.4,1349.0 L2187.4,1354.4 L2189.5,1351.9 L2192.0,1345.2 L2196.2,1345.2 L2198.7,1342.8 L2202.8,1333.6 L2204.9,1332.5 L2207.8,1334.4 L2209.9,1334.4 L2211.9,1336.1 L2215.7,1335.3 L2218.2,1346.5 L2221.1,1347.7 L2223.1,1346.9 L2227.3,1342.2 L2231.4,1344.4 L2235.6,1343.2 L2239.8,1345.2 L2244.3,1344.0 L2246.4,1342.3 L2248.5,1334.4 L2250.5,1335.7 L2253.4,1334.2 L2255.9,1335.7 L2259.2,1337.8 L2261.3,1336.9 L2263.8,1336.5 L2265.9,1330.7 L2267.6,1329.2 L2270.0,1336.5 L2272.5,1335.9 L2274.6,1336.5 L2276.3,1332.4 L2278.8,1336.9 L2281.2,1344.8 L2284.6,1347.3 L2287.5,1345.2 L2289.6,1350.6 L2291.6,1350.6 L2293.7,1336.5 L2298.7,1327.4 L2300.3,1332.8 L2302.4,1330.3 L2305.3,1334.9 L2307.0,1335.7 L2309.1,1340.7 L2311.1,1341.9 L2313.6,1344.0 L2318.2,1342.2 L2320.3,1342.5 L2322.3,1344.0 L2324.4,1343.2 L2329.4,1343.0 L2331.1,1341.5 L2333.1,1336.9 L2334.8,1337.8 L2337.3,1328.6 L2339.5,1325.7 L2339.8,1449.4 Z" fill="#FF8800" stroke="none"/>
<line x1="402" y1="1449.4" x2="2339.5" y2="1449.4" stroke="#FF8800" stroke-width="0.8" stroke-opacity="0.35"/>
<path d="M691.9,1371.25 C691.9,1309.65 1249.4,1377.0 1249.4,1438.6" fill="none" stroke="#FF8800" stroke-width="1.25"/>
<rect x="934.7" y="1334.2" width="72.0" height="48" fill="#fff"/>
<g transform="scale(1.10708,1)"><text x="866.55" y="1367.85" font-size="36.75" fill="#000" stroke="#000" stroke-width="0.70" stroke-linejoin="round">4</text></g>
<path d="M1671.9,1432.8 C1671.9,1371.2 1979.7,1304.0 1979.7,1365.6" fill="none" stroke="#FF8800" stroke-width="2.25"/>
<rect x="1779.8" y="1328.5" width="92.0" height="48" fill="#fff"/>
<g transform="scale(1.10708,1)"><text x="1628.77 1649.21" y="1362.15" font-size="36.75" fill="#000" stroke="#000" stroke-width="0.70" stroke-linejoin="round">12</text></g>
<path d="M692.6,1449.4 C692.6,1511.0 1979.7,1511.0 1979.7,1449.4" fill="none" stroke="#FF8800" stroke-width="4.15"/>
<rect x="1289.7" y="1471.1" width="93.0" height="48" fill="#fff"/>
<g transform="scale(1.10708,1)"><text x="1186.48 1206.92" y="1504.75" font-size="36.75" fill="#000" stroke="#000" stroke-width="0.70" stroke-linejoin="round">56</text></g>
<line x1="400" y1="1269.7" x2="400" y2="1451.6" stroke="#000" stroke-width="4.17"/>
<line x1="380.3" y1="1449.40" x2="400" y2="1449.40" stroke="#000" stroke-width="4.17"/>
<line x1="380.3" y1="1405.05" x2="400" y2="1405.05" stroke="#000" stroke-width="4.17"/>
<line x1="380.3" y1="1360.70" x2="400" y2="1360.70" stroke="#000" stroke-width="4.17"/>
<line x1="380.3" y1="1316.35" x2="400" y2="1316.35" stroke="#000" stroke-width="4.17"/>
<line x1="380.3" y1="1272.00" x2="400" y2="1272.00" stroke="#000" stroke-width="4.17"/>
<g transform="scale(1.10708,1)"><text x="274.37 299.91" y="1288.56" font-size="45.92" fill="#000" stroke="#000" stroke-width="0.87" stroke-linejoin="round">51</text></g>
<g transform="scale(1.10710,1)"><text x="236.07 261.61 287.15 299.91" y="1332.91" font-size="45.92" fill="#000" stroke="#000" stroke-width="0.87" stroke-linejoin="round">38.2</text></g>
<g transform="scale(1.10710,1)"><text x="236.07 261.61 287.15 299.91" y="1377.26" font-size="45.92" fill="#000" stroke="#000" stroke-width="0.87" stroke-linejoin="round">25.5</text></g>
<g transform="scale(1.10710,1)"><text x="236.07 261.61 287.15 299.91" y="1421.61" font-size="45.92" fill="#000" stroke="#000" stroke-width="0.87" stroke-linejoin="round">12.8</text></g>
<g transform="translate(231.00,1351.50) rotate(-90) scale(0.94336,1)"><text x="-66.55 -34.72 -5.07 26.89" y="-0.44" font-size="45.92" fill="#000" stroke="#000" stroke-width="0.87" stroke-linejoin="round">RPKM</text></g>
<g transform="scale(1.03047,1)"><text x="867.01 896.55 926.29 959.11 993.24 1022.39 1047.65 1060.44 1085.62 1117.17 1129.38 1168.07 1195.50 1220.00 1243.31 1266.91 1276.41 1307.52 1339.67 1367.74 1390.14 1423.09 1450.40 1480.29 1507.72 1535.16 1562.60 1590.04 1614.54 1637.24 1665.38 1692.82 1719.33 1750.53 1772.91 1802.38 1836.45 1848.92 1876.31 1910.70 1927.68 1954.64 1967.85 1981.49 2008.30 2030.88 2055.78 2082.72 2107.46 2134.38 2146.36 2160.48 2174.66 2201.63 2215.81 2243.25" y="1284.06" font-size="45.92" fill="#FF8800" stroke="#FF8800" stroke-width="0.87" stroke-linejoin="round">ABHD11 TRIM25_siRNA_GSE79586_T47D_KD/KO-2 IncLevel: 1.00</text></g>
<line x1="397.4" y1="1555.7" x2="2341" y2="1555.7" stroke="#000" stroke-width="4.4"/>
<line x1="399.70" y1="1555.7" x2="399.70" y2="1575.5" stroke="#000" stroke-width="4.17"/>
<g transform="scale(1.10708,1)"><text x="279.30 299.73 320.17 340.60 361.04 381.48 401.91 422.35" y="1619.95" font-size="36.75" fill="#000" stroke="#000" stroke-width="0.70" stroke-linejoin="round">73152794</text></g>
<line x1="787.22" y1="1555.7" x2="787.22" y2="1575.5" stroke="#000" stroke-width="4.17"/>
<g transform="scale(1.10708,1)"><text x="629.34 649.77 670.21 690.64 711.08 731.52 751.95 772.39" y="1619.95" font-size="36.75" fill="#000" stroke="#000" stroke-width="0.70" stroke-linejoin="round">73152616</text></g>
<line x1="1174.74" y1="1555.7" x2="1174.74" y2="1575.5" stroke="#000" stroke-width="4.17"/>
<g transform="scale(1.10708,1)"><text x="979.37 999.81 1020.25 1040.68 1061.12 1081.56 1101.99 1122.43" y="1619.95" font-size="36.75" fill="#000" stroke="#000" stroke-width="0.70" stroke-linejoin="round">73152437</text></g>
<line x1="1562.26" y1="1555.7" x2="1562.26" y2="1575.5" stroke="#000" stroke-width="4.17"/>
<g transform="scale(1.10708,1)"><text x="1329.41 1349.85 1370.29 1390.72 1411.16 1431.59 1452.03 1472.47" y="1619.95" font-size="36.75" fill="#000" stroke="#000" stroke-width="0.70" stroke-linejoin="round">73152258</text></g>
<line x1="1949.78" y1="1555.7" x2="1949.78" y2="1575.5" stroke="#000" stroke-width="4.17"/>
<g transform="scale(1.10708,1)"><text x="1679.45 1699.89 1720.33 1740.76 1761.20 1781.63 1802.07 1822.51" y="1619.95" font-size="36.75" fill="#000" stroke="#000" stroke-width="0.70" stroke-linejoin="round">73152079</text></g>
<line x1="2337.30" y1="1555.7" x2="2337.30" y2="1575.5" stroke="#000" stroke-width="4.17"/>
<g transform="scale(1.10708,1)"><text x="2029.49 2049.93 2070.36 2090.80 2111.24 2131.67 2152.11 2172.55" y="1619.95" font-size="36.75" fill="#000" stroke="#000" stroke-width="0.70" stroke-linejoin="round">73151900</text></g>
<g transform="scale(1.10642,1)"><text x="856.84 889.85 914.93 939.95 965.44 1004.61 1014.85 1037.38 1049.70 1071.74 1096.32 1121.98 1137.51 1163.16 1173.79 1198.83 1225.40 1239.24 1264.37 1277.32 1292.36 1314.85 1340.95 1356.86 1382.60 1398.09 1410.85 1424.70 1441.69 1457.67 1475.07 1486.81 1510.25 1525.11 1540.55 1565.59 1591.06" y="1683.06" font-size="45.92" fill="#000" stroke="#000" stroke-width="0.87" stroke-linejoin="round">Genomic coordinate (chr7), &quot;-&quot; strand</text></g>
<line x1="401" y1="2193.9" x2="2339.9" y2="2193.9" stroke="#000" stroke-width="3.2"/>
<path d="M701.70,2181.10 L710.80,2193.90 L701.70,2206.70 M740.48,2181.10 L749.58,2193.90 L740.48,2206.70 M779.26,2181.10 L788.36,2193.90 L779.26,2206.70 M818.04,2181.10 L827.14,2193.90 L818.04,2206.70 M856.82,2181.10 L865.92,2193.90 L856.82,2206.70 M895.60,2181.10 L904.70,2193.90 L895.60,2206.70 M934.38,2181.10 L943.48,2193.90 L934.38,2206.70 M973.16,2181.10 L982.26,2193.90 L973.16,2206.70 M1011.94,2181.10 L1021.04,2193.90 L1011.94,2206.70 M1050.72,2181.10 L1059.82,2193.90 L1050.72,2206.70 M1089.50,2181.10 L1098.60,2193.90 L1089.50,2206.70 M1128.28,2181.10 L1137.38,2193.90 L1128.28,2206.70 M1167.06,2181.10 L1176.16,2193.90 L1167.06,2206.70 M1205.84,2181.10 L1214.94,2193.90 L1205.84,2206.70 M1244.62,2181.10 L1253.72,2193.90 L1244.62,2206.70 M1283.40,2181.10 L1292.50,2193.90 L1283.40,2206.70 M1322.18,2181.10 L1331.28,2193.90 L1322.18,2206.70 M1360.96,2181.10 L1370.06,2193.90 L1360.96,2206.70 M1399.74,2181.10 L1408.84,2193.90 L1399.74,2206.70 M1438.52,2181.10 L1447.62,2193.90 L1438.52,2206.70 M1477.30,2181.10 L1486.40,2193.90 L1477.30,2206.70 M1516.08,2181.10 L1525.18,2193.90 L1516.08,2206.70 M1554.86,2181.10 L1563.96,2193.90 L1554.86,2206.70 M1593.64,2181.10 L1602.74,2193.90 L1593.64,2206.70 M1632.42,2181.10 L1641.52,2193.90 L1632.42,2206.70 M1671.20,2181.10 L1680.30,2193.90 L1671.20,2206.70 M1709.98,2181.10 L1719.08,2193.90 L1709.98,2206.70 M1748.76,2181.10 L1757.86,2193.90 L1748.76,2206.70 M1787.54,2181.10 L1796.64,2193.90 L1787.54,2206.70 M1826.32,2181.10 L1835.42,2193.90 L1826.32,2206.70 M1865.10,2181.10 L1874.20,2193.90 L1865.10,2206.70 M1903.88,2181.10 L1912.98,2193.90 L1903.88,2206.70 M1942.66,2181.10 L1951.76,2193.90 L1942.66,2206.70" fill="none" stroke="#000" stroke-width="3.2"/>
<rect x="400.1" y="2164.3" width="292.70" height="59.30" fill="#000"/>
<rect x="1247.3" y="2164.3" width="424.70" height="59.30" fill="#000"/>
<rect x="1977.6" y="2164.3" width="361.80" height="59.30" fill="#000"/>
<line x1="401" y1="2392.7" x2="2339.9" y2="2392.7" stroke="#000" stroke-width="3.2"/>
<path d="M701.70,2379.90 L710.80,2392.70 L701.70,2405.50 M740.48,2379.90 L749.58,2392.70 L740.48,2405.50 M779.26,2379.90 L788.36,2392.70 L779.26,2405.50 M818.04,2379.90 L827.14,2392.70 L818.04,2405.50 M856.82,2379.90 L865.92,2392.70 L856.82,2405.50 M895.60,2379.90 L904.70,2392.70 L895.60,2405.50 M934.38,2379.90 L943.48,2392.70 L934.38,2405.50 M973.16,2379.90 L982.26,2392.70 L973.16,2405.50 M1011.94,2379.90 L1021.04,2392.70 L1011.94,2405.50 M1050.72,2379.90 L1059.82,2392.70 L1050.72,2405.50 M1089.50,2379.90 L1098.60,2392.70 L1089.50,2405.50 M1128.28,2379.90 L1137.38,2392.70 L1128.28,2405.50 M1167.06,2379.90 L1176.16,2392.70 L1167.06,2405.50 M1205.84,2379.90 L1214.94,2392.70 L1205.84,2405.50 M1244.62,2379.90 L1253.72,2392.70 L1244.62,2405.50 M1283.40,2379.90 L1292.50,2392.70 L1283.40,2405.50 M1322.18,2379.90 L1331.28,2392.70 L1322.18,2405.50 M1360.96,2379.90 L1370.06,2392.70 L1360.96,2405.50 M1399.74,2379.90 L1408.84,2392.70 L1399.74,2405.50 M1438.52,2379.90 L1447.62,2392.70 L1438.52,2405.50 M1477.30,2379.90 L1486.40,2392.70 L1477.30,2405.50 M1516.08,2379.90 L1525.18,2392.70 L1516.08,2405.50 M1554.86,2379.90 L1563.96,2392.70 L1554.86,2405.50 M1593.64,2379.90 L1602.74,2392.70 L1593.64,2405.50 M1632.42,2379.90 L1641.52,2392.70 L1632.42,2405.50 M1671.20,2379.90 L1680.30,2392.70 L1671.20,2405.50 M1709.98,2379.90 L1719.08,2392.70 L1709.98,2405.50 M1748.76,2379.90 L1757.86,2392.70 L1748.76,2405.50 M1787.54,2379.90 L1796.64,2392.70 L1787.54,2405.50 M1826.32,2379.90 L1835.42,2392.70 L1826.32,2405.50 M1865.10,2379.90 L1874.20,2392.70 L1865.10,2405.50 M1903.88,2379.90 L1912.98,2392.70 L1903.88,2405.50 M1942.66,2379.90 L1951.76,2392.70 L1942.66,2405.50" fill="none" stroke="#000" stroke-width="3.2"/>
<rect x="400.1" y="2363.1" width="292.70" height="59.20" fill="#000"/>
<rect x="1977.6" y="2363.1" width="361.80" height="59.20" fill="#000"/>
</svg>
</body></html>
